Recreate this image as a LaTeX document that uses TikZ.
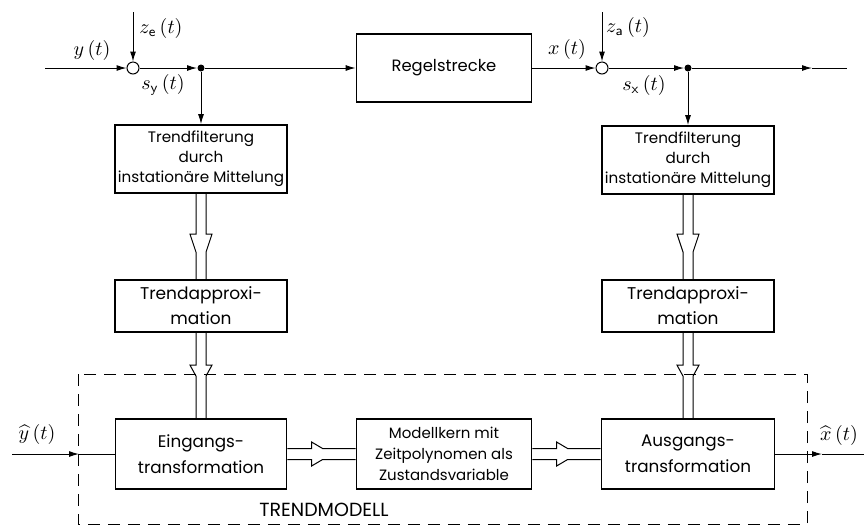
\documentclass[tikz,border=0pt]{standalone}
\usepackage{fontspec}
\newfontfamily\blockfont{Poppins}
\usetikzlibrary{arrows.meta,calc}

% hohler Doppelpfeil senkrecht: #1 oben, #2 unten, #3 Abstand Spitze, #4 Laenge Spitze
\newcommand{\hohlpfeilv}[4]{%
\draw ($(#1)+(-5,0)$) -- ($(#2)+(-5,-#3)$) -- ++(-6,0) -- ($(#2)+(-5,-#3+#4)$) -- ($(#2)+(-5,0)$);
\draw ($(#1)+(5,0)$) -- ($(#2)+(5,-#3)$) -- ++(6,0) -- ($(#2)+(5,-#3+#4)$) -- ($(#2)+(5,0)$);
}
% hohler Doppelpfeil waagerecht: #1 links, #2 rechts
\newcommand{\hohlpfeilh}[4]{%
\draw ($(#1)+(0,-5.5)$) -- ($(#2)+(-#3,-5.5)$) -- ++(0,-6.5) -- ($(#2)+(-#3+#4,-5.5)$) -- ($(#2)+(0,-5.5)$);
\draw ($(#1)+(0,5.5)$) -- ($(#2)+(-#3,5.5)$) -- ++(0,6.5) -- ($(#2)+(-#3+#4,5.5)$) -- ($(#2)+(0,5.5)$);
}

\begin{document}
\begin{tikzpicture}[x=0.5pt,y=-0.5pt,line width=0.5pt,
  block/.style={draw,line width=0.9pt,inner sep=1pt,align=center},
  summe/.style={draw,circle,inner sep=0pt,minimum size=6pt},
  punkt/.style={fill,circle,inner sep=0pt,minimum size=3.5pt},
  pfeil/.style={-{Latex[length=5pt,width=3pt]}}]
\useasboundingbox (0,0) rectangle (866,527);
%\draw[very thin,gray,step=50] (0,0) grid (866,527);

% Bloecke
\node[block,minimum width=87.5pt,minimum height=34pt,font=\blockfont\fontsize{8.2}{10}\selectfont] (regel) at (444,68) {Regelstrecke};
\node[block,minimum width=86pt,minimum height=34pt,font=\blockfont\fontsize{7.6}{10}\selectfont] (filtL) at (201,159) {Trendfilterung\\durch\\instationäre Mittelung};
\node[block,minimum width=86pt,minimum height=34pt,font=\blockfont\fontsize{7.6}{10}\selectfont] (filtR) at (688,160) {Trendfilterung\\durch\\instationäre Mittelung};
\node[block,minimum width=86pt,minimum height=26pt,font=\blockfont\fontsize{8.5}{12.5}\selectfont] (appL) at (201,306) {Trendapproxi-\\mation};
\node[block,minimum width=86pt,minimum height=26pt,font=\blockfont\fontsize{8.5}{12.5}\selectfont] (appR) at (688,306) {Trendapproxi-\\mation};
\node[block,minimum width=85.5pt,minimum height=35pt,font=\blockfont\fontsize{8.4}{13}\selectfont] (eing) at (201,454) {Eingangs-\\transformation};
\node[block,minimum width=87.5pt,minimum height=35pt,font=\blockfont\fontsize{7.5}{10.5}\selectfont] (kern) at (444,454) {Modellkern mit\\Zeitpolynomen als\\Zustandsvariable};
\node[block,minimum width=86.5pt,minimum height=35pt,font=\blockfont\fontsize{8.4}{13}\selectfont] (ausg) at (688,454) {Ausgangs-\\transformation};

% Summierstellen und Verzweigungen
\node[summe] (sumE) at (133,68) {};
\node[summe] (sumA) at (602,68) {};
\node[punkt] (dotE) at (201,68) {};
\node[punkt] (dotA) at (688,68) {};
\coordinate (yIn) at (45,68);
\coordinate (zeOben) at (133,12);
\coordinate (zaOben) at (602,12);
\coordinate (xPfeil) at (812,68);
\coordinate (xEnde) at (847,68);
\coordinate (yhIn) at (12,454);
\coordinate (yhPfeil) at (79,454);
\coordinate (xhPfeil) at (822,454);
\coordinate (xhEnde) at (864,454);

% Signalfluss oben
\draw[pfeil] (yIn) -- (sumE.west);
\draw[pfeil] (zeOben) -- (sumE.north);
\draw[pfeil] (sumE.east) -- (dotE);
\draw[pfeil] (dotE) -- (regel.west);
\draw[pfeil] (dotE) -- (filtL.north);
\draw[pfeil] (regel.east) -- (sumA.west);
\draw[pfeil] (zaOben) -- (sumA.north);
\draw[pfeil] (sumA.east) -- (dotA);
\draw[pfeil] (dotA) -- (xPfeil);
\draw (xPfeil) -- (xEnde);
\draw[pfeil] (dotA) -- (filtR.north);

\node at (92,50) {$y\,(t)$};
\node at (161,28) {$z_{\mathsf{e}}\,(t)$};
\node at (163,85) {$s_{\mathsf{y}}\,(t)$};
\node at (567,49) {$x\,(t)$};
\node at (628,27) {$z_{\mathsf{a}}\,(t)$};
\node at (644,85) {$s_{\mathsf{x}}\,(t)$};

% Doppelpfeile
\hohlpfeilv{filtL.south}{appL.north}{45}{18}
\hohlpfeilv{filtR.south}{appR.north}{45}{18}
\hohlpfeilv{appL.south}{eing.north}{53}{11}
\hohlpfeilv{appR.south}{ausg.north}{53}{11}
\hohlpfeilh{eing.east}{kern.west}{44}{11}
\hohlpfeilh{kern.east}{ausg.west}{44}{11}

% Trendmodell
\draw[pfeil] (yhIn) -- (yhPfeil);
\draw (yhPfeil) -- (eing.west);
\draw[pfeil] (ausg.east) -- (xhPfeil);
\draw (xhPfeil) -- (xhEnde);
\node at (37,434) {$\widehat{y}\,(t)$};
\node at (839,435) {$\widehat{x}\,(t)$};
\draw[dashed,dash pattern=on 6pt off 4pt] (78,374) rectangle (807,524);
\node[font=\blockfont\fontsize{9.5}{11}\selectfont] (trend) at (324,510) {TRENDMODELL};
\end{tikzpicture}
\end{document}
